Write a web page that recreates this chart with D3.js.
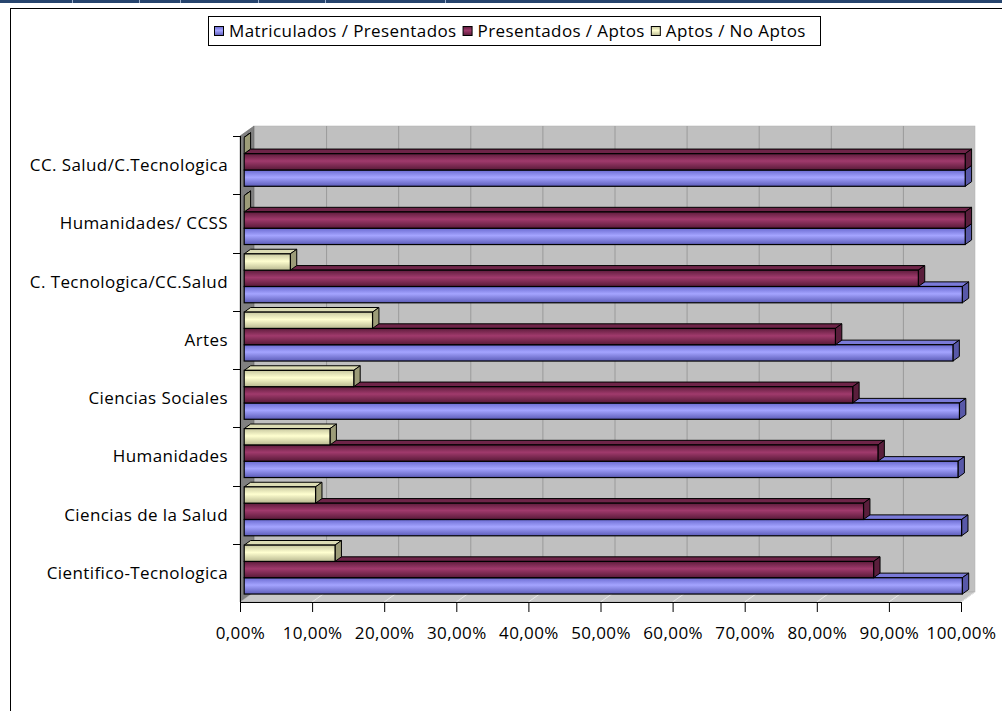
<!DOCTYPE html>
<html><head><meta charset="utf-8">
<script src="https://cdn.jsdelivr.net/npm/d3@7/dist/d3.min.js"></script>
<style>
html,body{margin:0;padding:0;background:#fff;}
svg{display:block;}
text{font-family:"Open Sans",Lato,sans-serif;fill:#000;letter-spacing:0.4px;}
</style></head>
<body>
<svg id="c" width="1002" height="711"></svg>
<script>
// Categories in chart order (first = bottom row)
const categories = ["Cientifico-Tecnologica","Ciencias de la Salud","Humanidades","Ciencias Sociales","Artes","C. Tecnologica/CC.Salud","Humanidades/ CCSS","CC. Salud/C.Tecnologica"];
const seriesNames = ["Matriculados / Presentados","Presentados / Aptos","Aptos / No Aptos"];
const matriculadosPresentados = [0.996,0.995,0.990,0.992,0.983,0.996,1.0,1.0];
const presentadosAptos = [0.873,0.859,0.879,0.844,0.820,0.935,1.0,1.0];
const aptosNoAptos = [0.126,0.099,0.119,0.152,0.178,0.064,0,0];
const tickValues = [0,0.1,0.2,0.3,0.4,0.5,0.6,0.7,0.8,0.9,1.0];
const tickLabels = ["0,00%","10,00%","20,00%","30,00%","40,00%","50,00%","60,00%","70,00%","80,00%","90,00%","100,00%"];

const seriesValues = [matriculadosPresentados, presentadosAptos, aptosNoAptos];
const palette = [
  {front:["#6a6ad0","#a4a4ff","#5c5cb8"], top:"#7a7ad8", side:"#5858a8"},
  {front:["#5e1c3c","#a03a6c","#581a38"], top:"#6e2448", side:"#5a1e3c"},
  {front:["#c8c8a0","#ffffd0","#b8b890"], top:"#dcdcb4", side:"#9c9c78"}
];
const FS = "17px";

const svg = d3.select("#c");
const defs = svg.append("defs");
palette.forEach((p,i)=>{
  const g = defs.append("linearGradient").attr("id","g"+i).attr("x1",0).attr("y1",0).attr("x2",0).attr("y2",1);
  g.append("stop").attr("offset","0%").attr("stop-color",p.front[0]);
  g.append("stop").attr("offset","45%").attr("stop-color",p.front[1]);
  g.append("stop").attr("offset","100%").attr("stop-color",p.front[2]);
});

// top band
svg.append("rect").attr("x",0).attr("y",0).attr("width",1002).attr("height",3).attr("fill","#27456e");
[72,139,180,258,325,445].forEach(x=>svg.append("rect").attr("x",x).attr("y",0).attr("width",1).attr("height",3).attr("fill","#9db0cc"));

// chart frame
svg.append("rect").attr("x",10.5).attr("y",8.5).attr("width",1010).attr("height",720)
  .attr("fill","#fff").attr("stroke","#000").attr("stroke-width",1);

// geometry
const X0=240, X1=961, YT=136, YB=602;
const depth=[14,-10];
const bf=[4.2,-3.3], bd=[6.4,-4.6];
const x = d3.scaleLinear().domain([0,1]).range([X0,X1]);
const y = d3.scaleBand().domain(categories).range([YB,YT]).paddingInner(0).paddingOuter(0);
const pad = 0.08;
const sub = d3.scaleBand().domain(d3.range(3)).range([y.bandwidth()*(1-pad), y.bandwidth()*pad]);

// walls
const g = svg.append("g");
g.append("rect").attr("x",X0+depth[0]).attr("y",YT+depth[1]).attr("width",X1-X0).attr("height",YB-YT)
  .attr("fill","#c0c0c0").attr("stroke","#b0b0b0").attr("stroke-width",0.5);
g.append("path").attr("d",`M${X0},${YT}L${X0+depth[0]},${YT+depth[1]}L${X0+depth[0]},${YB+depth[1]}L${X0},${YB}Z`)
  .attr("fill","#808080").attr("stroke","#606060").attr("stroke-width",0.5);
g.append("path").attr("d",`M${X0},${YB}L${X1},${YB}L${X1+depth[0]},${YB+depth[1]}L${X0+depth[0]},${YB+depth[1]}Z`)
  .attr("fill","#c8c8c8").attr("stroke","#a0a0a0").attr("stroke-width",0.5);
tickValues.forEach(t=>{
  if(t>0 && t<1) g.append("line").attr("x1",x(t)+depth[0]+0.5).attr("x2",x(t)+depth[0]+0.5)
    .attr("y1",YT+depth[1]).attr("y2",YB+depth[1]).attr("stroke","#9a9a9a").attr("stroke-width",1);
  if(t>0) g.append("line").attr("x1",x(t)).attr("y1",YB).attr("x2",x(t)+depth[0]).attr("y2",YB+depth[1])
    .attr("stroke","#e8e8e8").attr("stroke-width",1);
});
g.append("line").attr("x1",X0+0.5).attr("x2",X0+0.5).attr("y1",YT).attr("y2",YB).attr("stroke","#000");
g.append("line").attr("x1",X0).attr("x2",X1).attr("y1",YB+0.5).attr("y2",YB+0.5).attr("stroke","#000");

// value axis
const xAxis = d3.axisBottom(x).tickValues(tickValues).tickSize(10).tickPadding(15)
  .tickFormat((d,i)=>tickLabels[i]);
const ax = svg.append("g").attr("transform",`translate(0,${YB})`).call(xAxis);
ax.select(".domain").remove();
ax.selectAll("line").attr("stroke","#000");
ax.selectAll("text").style("font-size",FS).attr("font-family","'Open Sans',sans-serif");

// category axis
const yTicks = y.domain().map(c=>y(c)).concat([YT]);
yTicks.forEach(v=>svg.append("line").attr("x1",233).attr("x2",X0).attr("y1",Math.round(v)+0.5).attr("y2",Math.round(v)+0.5).attr("stroke","#000"));
svg.append("g").selectAll("text").data(categories).join("text")
  .attr("x",228).attr("y",d=>y(d)+y.bandwidth()/2).attr("dy","0.35em")
  .attr("text-anchor","end").style("font-size",FS).text(d=>d);

// bars
const bars = svg.append("g");
categories.forEach((c,ci)=>{
  seriesValues.forEach((vals,si)=>{
    const v = vals[ci];
    const y0 = y(c)+sub(si)+bf[1], h = sub.bandwidth();
    const xa = X0+bf[0], xb = x(v)+bf[0];
    const p = palette[si];
    bars.append("path").attr("d",`M${xa},${y0}L${xb},${y0}L${xb+bd[0]},${y0+bd[1]}L${xa+bd[0]},${y0+bd[1]}Z`)
      .attr("fill",p.top).attr("stroke","#000").attr("stroke-width",1).attr("stroke-linejoin","round");
    bars.append("path").attr("d",`M${xb},${y0}L${xb+bd[0]},${y0+bd[1]}L${xb+bd[0]},${y0+h+bd[1]}L${xb},${y0+h}Z`)
      .attr("fill",p.side).attr("stroke","#000").attr("stroke-width",1).attr("stroke-linejoin","round");
    if(xb>xa) bars.append("rect").attr("x",xa).attr("y",y0).attr("width",xb-xa).attr("height",h)
      .attr("fill",`url(#g${si})`).attr("stroke","#000").attr("stroke-width",1.2);
  });
});

// legend
const lg = svg.append("g").attr("transform","translate(208,16)");
lg.append("rect").attr("x",0.5).attr("y",0.5).attr("width",612).attr("height",29).attr("fill","#fff").attr("stroke","#000");
let lx = 6;
const legendItems = lg.selectAll("g.li").data(seriesNames).join("g").attr("class","li");
legendItems.each(function(d,i){
  const gi = d3.select(this);
  gi.append("rect").attr("x",lx+0.5).attr("y",10.5).attr("width",9).attr("height",9)
    .attr("fill",`url(#g${i})`).attr("stroke","#000");
  const t = gi.append("text").attr("x",lx+15).attr("y",15).attr("dy","0.35em").style("font-size",FS).text(d);
  lx += 15 + t.node().getComputedTextLength() + 6;
});
</script>
</body></html>
